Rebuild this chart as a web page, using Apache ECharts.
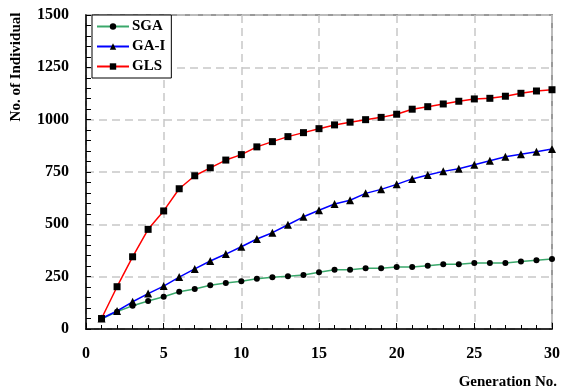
<!DOCTYPE html>
<html>
<head>
<meta charset="utf-8">
<script src="https://cdn.jsdelivr.net/npm/echarts@6/dist/echarts.min.js"></script>
<style>html,body{margin:0;padding:0;background:#fff}#c{width:563px;height:392px}</style>
</head>
<body>
<div id="c"></div>
<script>
const generations = [1,2,3,4,5,6,7,8,9,10,11,12,13,14,15,16,17,18,19,20,21,22,23,24,25,26,27,28,29,30];
const sga  = [48,83,111,134,154,178,191,209,220,228,240,247,252,258,271,283,283,290,290,296,296,302,309,309,315,315,315,322,328,334];
const gaI  = [50,86,130,169,205,248,287,325,358,393,430,460,498,536,567,597,615,648,667,691,717,736,753,766,785,804,823,835,847,860];
const gls  = [50,202,345,476,564,670,732,770,807,833,870,895,919,938,957,975,988,1000,1011,1026,1050,1062,1075,1088,1099,1102,1112,1126,1137,1143];
const seriesNames = ['SGA','GA-I','GLS'];
const xTitle = 'Generation No.';
const yTitle = 'No. of Individual';

const FONT = '"Liberation Serif","Times New Roman",serif';
const chart = echarts.init(document.getElementById('c'), null, {renderer:'canvas'});
const pair = arr => generations.map((g,i)=>[g,arr[i]]);
const mk = (name, data, color, symbol, size) => ({
  name, type:'line', data: pair(data), symbol, symbolSize:size, showSymbol:true,
  lineStyle:{color, width:1.5}, itemStyle:{color:'#000'}, color, animation:false,
  emphasis:{disabled:true}
});
chart.setOption({
  animation:false,
  grid:{left:86,right:7,top:15,bottom:63,show:true,borderColor:'#999',borderWidth:2,backgroundColor:'transparent'},
  legend:{
    left:92, top:15, orient:'vertical', itemWidth:32, itemHeight:8, itemGap:5,
    padding:[4,6,4,4], borderColor:'#000', borderWidth:1, backgroundColor:'#fff',
    textStyle:{fontFamily:FONT,fontWeight:'bold',fontSize:15,color:'#000',padding:[0,0,0,-2]},
    data: seriesNames
  },
  xAxis:{
    type:'value', min:0, max:30, interval:5,
    axisLine:{lineStyle:{color:'#000',width:1.5}},
    axisTick:{inside:true,length:6,lineStyle:{color:'#000'}},
    minorTick:{show:true,splitNumber:5,length:4,lineStyle:{color:'#000'}},
    axisLabel:{fontFamily:FONT,fontWeight:'bold',fontSize:16,color:'#000',margin:17},
    splitLine:{show:true,lineStyle:{color:'#c8c8c8',type:[8,5],width:1.5}}
  },
  yAxis:{
    type:'value', min:0, max:1500, interval:250,
    axisLine:{show:true,lineStyle:{color:'#000',width:1.5}},
    axisTick:{show:true,inside:true,length:5,lineStyle:{color:'#000'}},
    minorTick:{show:true,splitNumber:5,length:5,lineStyle:{color:'#000'}},
    axisLabel:{fontFamily:FONT,fontWeight:'bold',fontSize:16,color:'#000',margin:17,formatter:v=>String(v)},
    splitLine:{show:true,lineStyle:{color:'#c8c8c8',type:[8,5],width:1.5}}
  },
  graphic:[
    {type:'text', x:16, y:67, rotation:Math.PI/2,
     style:{text:yTitle, align:'center', verticalAlign:'middle', font:'bold 15px '+FONT, fill:'#000'}},
    {type:'text', x:557, y:382,
     style:{text:xTitle, align:'right', verticalAlign:'middle', font:'bold 15px '+FONT, fill:'#000'}}
  ],
  series:[
    mk('SGA', sga, '#3aa86b', 'circle', 6),
    mk('GA-I', gaI, '#0000ff', 'triangle', 8),
    mk('GLS', gls, '#ff0000', 'rect', 7)
  ]
});
</script>
</body>
</html>
